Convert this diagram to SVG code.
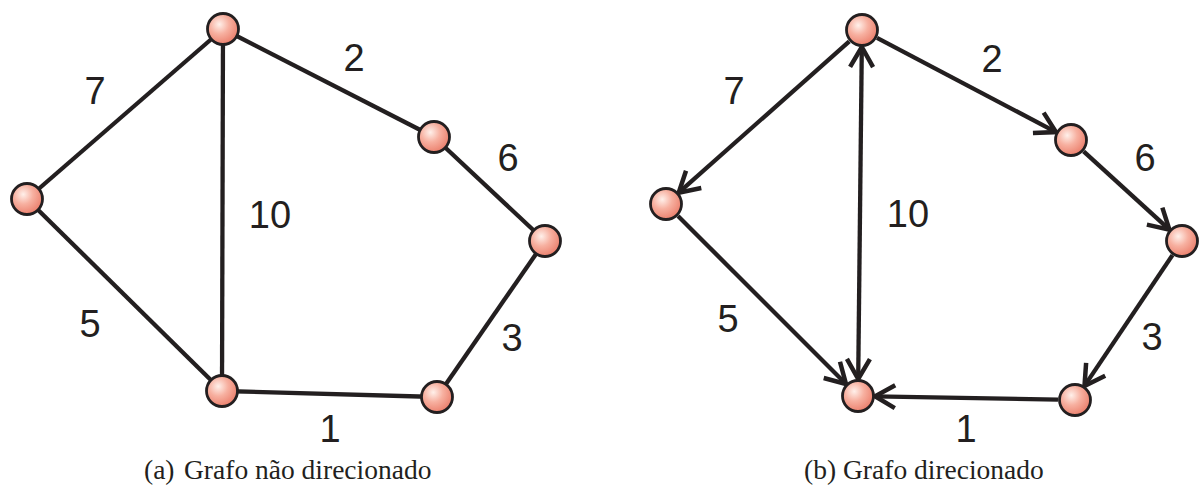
<svg xmlns="http://www.w3.org/2000/svg" width="1199" height="485" viewBox="0 0 1199 485">
<style>
.e{stroke:#231f20;stroke-width:4.3;fill:none}
.n{stroke:#231f20;stroke-width:2.8;fill:url(#g)}
.l{font-family:"Liberation Sans",Arial,sans-serif;font-size:38px;fill:#231f20;text-anchor:middle}
.c{font-family:"Liberation Serif","Times New Roman",serif;font-size:27.5px;fill:#231f20}
</style>
<defs>
<radialGradient id="g" cx="0.38" cy="0.35" r="0.7">
<stop offset="0" stop-color="#fff0ea"/>
<stop offset="0.45" stop-color="#f7b0a0"/>
<stop offset="1" stop-color="#ea7b68"/>
</radialGradient>
<marker id="a" markerUnits="userSpaceOnUse" viewBox="-26 -16 30 32" refX="0" refY="0" markerWidth="30" markerHeight="32" orient="auto-start-reverse">
<path d="M-20,-11.5 L0,0 L-20,11.5" fill="none" stroke="#231f20" stroke-width="4.5" stroke-linejoin="miter"/>
</marker>
</defs>
<rect width="1199" height="485" fill="#fff"/>
<g id="edges-a">
<line class="e" x1="223" y1="29" x2="27" y2="199"/>
<line class="e" x1="223" y1="29" x2="434" y2="137"/>
<line class="e" x1="434" y1="137" x2="545" y2="241"/>
<line class="e" x1="545" y1="241" x2="437" y2="397"/>
<line class="e" x1="437" y1="397" x2="222" y2="391"/>
<line class="e" x1="27" y1="199" x2="222" y2="391"/>
<line class="e" x1="223" y1="29" x2="222" y2="391"/>
</g>
<g id="edges-b">
<line class="e" x1="849.3" y1="41.3" x2="678.7" y2="192.7" marker-end="url(#a)"/>
<line class="e" x1="877" y1="37.9" x2="1056" y2="132.1" marker-end="url(#a)"/>
<line class="e" x1="1083.6" y1="151.4" x2="1169.4" y2="229.6" marker-end="url(#a)"/>
<line class="e" x1="1172.5" y1="255.1" x2="1084.5" y2="385.9" marker-end="url(#a)"/>
<line class="e" x1="1058" y1="399.7" x2="875" y2="396.3" marker-end="url(#a)"/>
<line class="e" x1="678" y1="216" x2="846" y2="384" marker-end="url(#a)"/>
<line class="e" x1="861.8" y1="47" x2="858.2" y2="379" marker-start="url(#a)" marker-end="url(#a)"/>
</g>
<g id="nodes-a">
<circle id="a-top" class="n" cx="223" cy="29" r="15.5"/>
<circle id="a-rt" class="n" cx="434" cy="137" r="15.5"/>
<circle id="a-r" class="n" cx="545" cy="241" r="15.5"/>
<circle id="a-br" class="n" cx="437" cy="397" r="15.5"/>
<circle id="a-b" class="n" cx="222" cy="391" r="15.5"/>
<circle id="a-l" class="n" cx="27" cy="199" r="15.5"/>
</g>
<g id="nodes-b">
<circle id="b-top" class="n" cx="862" cy="30" r="15.5"/>
<circle id="b-rt" class="n" cx="1071" cy="140" r="15.5"/>
<circle id="b-r" class="n" cx="1182" cy="241" r="15.5"/>
<circle id="b-br" class="n" cx="1075" cy="400" r="15.5"/>
<circle id="b-b" class="n" cx="858" cy="396" r="15.5"/>
<circle id="b-l" class="n" cx="666" cy="204" r="15.5"/>
</g>
<g id="labels-a">
<text class="l" x="95" y="104">7</text>
<text class="l" x="354" y="71">2</text>
<text class="l" x="508" y="171">6</text>
<text class="l" x="270" y="228">10</text>
<text class="l" x="90" y="337">5</text>
<text class="l" x="512" y="351">3</text>
<text class="l" x="330" y="442">1</text>
</g>
<g id="labels-b">
<text class="l" x="734" y="104">7</text>
<text class="l" x="992" y="72">2</text>
<text class="l" x="1145" y="171">6</text>
<text class="l" x="908" y="227">10</text>
<text class="l" x="728" y="332">5</text>
<text class="l" x="1152" y="350">3</text>
<text class="l" x="966" y="442">1</text>
</g>
<g id="captions">
<text class="c" x="144" y="479">(a)</text>
<text class="c" x="184" y="479">Grafo não direcionado</text>
<text class="c" x="804" y="479">(b)</text>
<text class="c" x="843" y="479">Grafo direcionado</text>
</g>
</svg>
